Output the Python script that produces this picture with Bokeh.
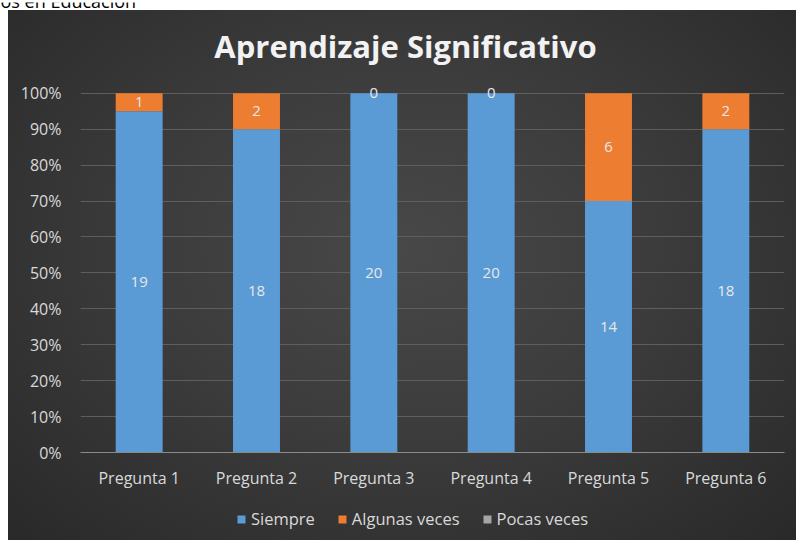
from bokeh.plotting import figure
from bokeh.layouts import column, row
from bokeh.models import (ColumnDataSource, LabelSet, Legend, LegendItem, NumeralTickFormatter,
                          FixedTicker, Range1d, Spacer)
from bokeh.core.properties import value
from bokeh.embed import file_html
from bokeh.resources import INLINE

preguntas = ["Pregunta 1", "Pregunta 2", "Pregunta 3", "Pregunta 4", "Pregunta 5", "Pregunta 6"]
siempre = [19, 18, 20, 20, 14, 18]
algunas = [1, 2, 0, 0, 6, 2]
pocas = [0, 0, 0, 0, 0, 0]
series = ["Siempre", "Algunas veces", "Pocas veces"]
colors = ["#5B9BD5", "#ED7D31", "#A5A5A5"]
titulo = "Aprendizaje Significativo"
encabezado = "os en Educación"

tot = [a + b + c for a, b, c in zip(siempre, algunas, pocas)]
data = dict(
    x=preguntas,
    s=[v / t for v, t in zip(siempre, tot)],
    a=[v / t for v, t in zip(algunas, tot)],
    p=[v / t for v, t in zip(pocas, tot)],
)
data["s_y"] = [v / 2 for v in data["s"]]
data["a_y"] = [s + a / 2 for s, a in zip(data["s"], data["a"])]
data["s_t"] = [str(v) for v in siempre]
data["a_t"] = [str(v) for v in algunas]
src = ColumnDataSource(data)

FONT = "Open Sans"
TXT = "#d9d9d9"
W = 788
BL, BR = 72, 12
FW = W - BL - BR


def bare(width, height, left=0, right=0):
    fw = width - left - right
    f = figure(width=width, height=height, x_range=Range1d(0, fw), y_range=Range1d(0, height),
               output_backend="svg", toolbar_location=None,
               x_axis_location=None, y_axis_location=None)
    f.min_border_left = left
    f.min_border_right = right
    f.min_border_top = 0
    f.min_border_bottom = 0
    f.outline_line_color = None
    f.grid.visible = False
    f.background_fill_color = None
    f.border_fill_color = None
    return f


# top white strip with the cut page text
tf = bare(796, 10)
tf.background_fill_color = "white"
tf.border_fill_color = "white"
tf.text(x=[0], y=[12], text=[encabezado], text_font=value(FONT), text_font_size="18px",
        text_color="#000000", text_baseline="middle", text_align="left")

# header with chart title
hf = bare(W, 60, BL, BR)
hf.text(x=[325], y=[25], text=[titulo], text_font=value(FONT), text_font_size="31px",
        text_font_style="bold", text_color="#f2f2f2", text_baseline="middle",
        text_align="center")

# chart
YMAX = 1.03
p = figure(x_range=preguntas, y_range=Range1d(0, YMAX), frame_width=FW, frame_height=370,
           output_backend="svg", toolbar_location=None)
p.min_border_left = BL
p.min_border_right = BR
p.min_border_top = 12
p.min_border_bottom = 44
p.background_fill_color = None
p.border_fill_color = None
p.outline_line_color = None

r = p.vbar_stack(["s", "a", "p"], x="x", width=0.4, color=colors, source=src,
                 line_color=None)

p.yaxis.ticker = FixedTicker(ticks=[i / 10 for i in range(11)])
p.yaxis.formatter = NumeralTickFormatter(format="0%")
p.yaxis.axis_line_color = None
p.yaxis.major_tick_line_color = None
p.yaxis.minor_tick_line_color = None
p.yaxis.major_label_text_font = FONT
p.yaxis.major_label_text_font_size = "16px"
p.yaxis.major_label_text_color = TXT
p.yaxis.major_label_standoff = 13

p.xaxis.axis_line_color = "#8a8a8a"
p.xaxis.major_tick_line_color = None
p.xaxis.minor_tick_line_color = None
p.xaxis.major_label_text_font = FONT
p.xaxis.major_label_text_font_size = "16px"
p.xaxis.major_label_text_color = TXT
p.xaxis.major_label_standoff = 8

p.xgrid.grid_line_color = None
p.ygrid.grid_line_color = "#5e5e5e"
p.ygrid.grid_line_width = 1
p.x_range.range_padding = 0

for col_y, col_t in (("s_y", "s_t"), ("a_y", "a_t")):
    p.add_layout(LabelSet(x="x", y=col_y, text=col_t, source=src,
                          text_align="center", text_baseline="middle",
                          text_font=value(FONT), text_font_size="15px",
                          text_color="#e8e8e8"))

# legend strip
lf = bare(W, 44, BL, BR)
dummy = [lf.vbar(x=[-500], top=[-500], width=1, color=c, line_color=None) for c in colors]
legend = Legend(items=[LegendItem(label=s, renderers=[rr]) for s, rr in zip(series, dummy)],
                orientation="horizontal", location=(156, 10))
legend.background_fill_alpha = 0
legend.border_line_alpha = 0
legend.label_text_font = FONT
legend.label_text_font_size = "16.5px"
legend.label_text_color = TXT
legend.glyph_width = 10
legend.glyph_height = 10
legend.spacing = 22
legend.label_standoff = 5
legend.padding = 0
legend.margin = 0
lf.add_layout(legend, "center")

inner = column(hf, p, lf, spacing=0,
               styles={"background": "radial-gradient(ellipse at 50% 45%, #484848 0%, #3c3c3c 45%, #292929 100%)"})
layout = column(tf, row(Spacer(width=8, height=530), inner, spacing=0), spacing=0)
open("out.html", "w").write(file_html(layout, INLINE))
